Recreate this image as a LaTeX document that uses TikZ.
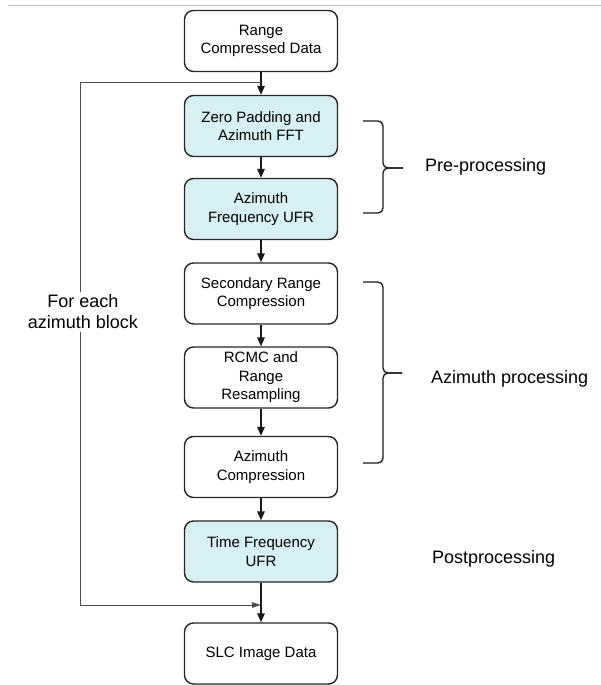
\documentclass[tikz,border=0pt]{standalone}
\usepackage{fontspec}
\setmainfont{Liberation Sans}
\usetikzlibrary{arrows.meta}
\definecolor{ufrblue}{RGB}{214,240,243}

\begin{document}
\begin{tikzpicture}[x=1pt, y=-1pt,
    stage/.style={draw=black!85, line width=1.4pt, rounded corners=9pt,
        minimum width=153pt, minimum height=61pt, inner sep=2pt,
        align=center, font=\fontsize{15}{18.5}\selectfont},
    ufrstage/.style={stage, fill=ufrblue},
    flow/.style={line width=1.4pt, black!90, -{Triangle[length=9pt,width=7.5pt]}},
    feedback/.style={line width=0.8pt, black!70, -{Triangle[length=9pt,width=5.5pt]}},
    bracket/.style={line width=1.3pt, black!90, rounded corners=5pt},
    sidetext/.style={font=\fontsize{18}{21}\selectfont, anchor=base west, inner sep=0pt}]
            \useasboundingbox (0,0) rectangle (601,685);

            % Thin rule along the top
            \draw[black!25, line width=0.8pt] (8,5) -- (601,5);

            % Processing chain
            \node[stage]    (rcd)   at (261,41)    {Range\\Compressed Data};
            \node[ufrstage] (zpad)  at (261,126)   {Zero Padding and\\Azimuth FFT};
            \node[ufrstage] (afufr) at (261,209)   {Azimuth\\Frequency UFR};
            \node[stage]    (src)   at (261,293.5) {Secondary Range\\Compression};
            \node[stage]    (rcmc)  at (261,377.5) {RCMC and\\Range\\Resampling};
            \node[stage]    (azc)   at (261,467)   {Azimuth\\Compression};
            \node[ufrstage] (tfufr) at (261,551.5) {Time Frequency\\UFR};
            \node[stage]    (slc)   at (261,653.5) {SLC Image Data};

            \draw[flow] (rcd) -- (zpad);
            \draw[flow] (zpad) -- (afufr);
            \draw[flow] (afufr) -- (src);
            \draw[flow] (src) -- (rcmc);
            \draw[flow] (rcmc) -- (azc);
            \draw[flow] (azc) -- (tfufr);
            \draw[flow] (tfufr) -- (slc);

            % Loop over azimuth blocks
            \coordinate (jtop) at (261,82);
            \coordinate (jbot) at (261,605);
            \coordinate (ltop) at (80,82);
            \coordinate (lbot) at (80,605);
            \draw[feedback] (jtop) -- (ltop) -- (lbot) -- (jbot);
            \node[fill=white, align=center, inner sep=3pt,
                  font=\fontsize{18}{21}\selectfont] (blocks) at (83,312)
                  {For each\\azimuth block};

            % Pre-processing bracket
            \draw[bracket] (363,121) -- (383,121) -- (383,168) -- (403,168);
            \draw[bracket] (363,213) -- (383,213) -- (383,168) -- (403,168);
            \node[sidetext] (pre) at (425,171) {Pre-processing};

            % Azimuth processing bracket
            \draw[bracket] (363,282) -- (383,282) -- (383,373) -- (402,373);
            \draw[bracket] (363,463) -- (383,463) -- (383,373) -- (402,373);
            \node[sidetext] (azp) at (431,383) {Azimuth processing};

            % Postprocessing
            \node[sidetext] (post) at (432,563) {Postprocessing};
        \end{tikzpicture}
\end{document}
